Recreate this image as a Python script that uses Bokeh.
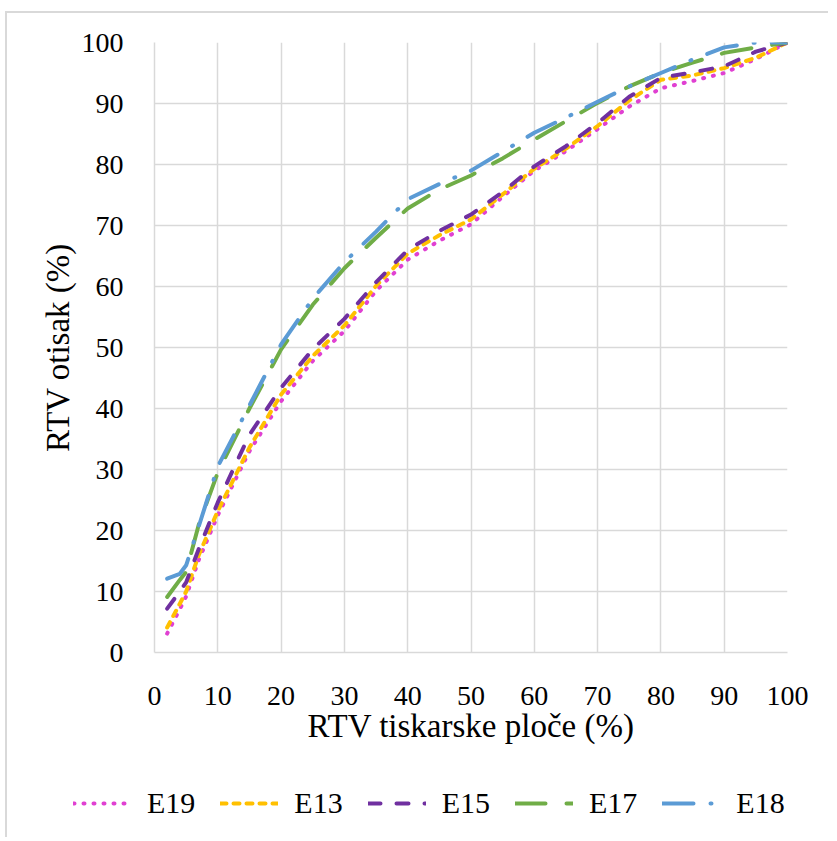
from bokeh.plotting import figure
from bokeh.models import Range1d, FixedTicker, Legend, LegendItem
from bokeh.layouts import column
from bokeh.embed import file_html
from bokeh.resources import INLINE

# RTV of printing plate (%)
x_plate = [2, 4, 5, 7, 10, 15, 20, 25, 30, 35, 40, 45, 50, 55, 60, 65, 70, 75, 80, 85, 90, 95, 100]

e19 = [3.1, 7.1, 9.2, 15.2, 22.5, 33.0, 41.2, 47.8, 52.7, 59.3, 64.4, 67.5, 70.2, 74.7, 79.0, 82.2, 85.8, 89.5, 92.5, 93.7, 95.0, 97.3, 100]
e13 = [4.1, 8.0, 10.0, 16.0, 23.2, 33.6, 42.3, 48.6, 53.6, 60.1, 65.4, 68.4, 71.0, 75.1, 79.3, 82.6, 86.3, 90.5, 93.9, 94.6, 95.8, 97.5, 100]
e15 = [7.2, 10.0, 11.5, 17.0, 24.6, 35.7, 43.4, 49.7, 54.7, 60.7, 66.0, 69.1, 71.8, 75.5, 79.7, 83.0, 86.8, 91.1, 94.2, 95.1, 96.1, 98.5, 100]
e17 = [9.1, 11.9, 13.2, 21.0, 29.5, 40.0, 49.7, 57.0, 63.0, 68.0, 72.8, 75.9, 78.2, 81.0, 84.1, 87.1, 90.1, 92.8, 95.0, 96.7, 98.3, 99.2, 100]
e18 = [12.1, 12.9, 14.3, 20.7, 30.5, 40.5, 50.5, 58.0, 64.0, 69.0, 74.3, 76.8, 79.0, 82.1, 85.2, 87.7, 90.3, 92.8, 95.0, 97.2, 99.2, 100, 100]

series_names = ["E19", "E13", "E15", "E17", "E18"]
series_values = [e19, e13, e15, e17, e18]
colors = ["#E040D2", "#FFC000", "#7030A0", "#70AD47", "#5B9BD5"]
dashes = ["1 9", "6 7", "12 16", "30 21", "31 17 1 17"]

ticks = list(range(0, 101, 10))

FONT = "Liberation Serif"
GRID = "#D9D9D9"
LW = 4

p = figure(
    frame_width=633, frame_height=610,
    min_border_left=147, min_border_right=41, min_border_top=29, min_border_bottom=115,
    x_range=Range1d(0, 100), y_range=Range1d(0, 100),
    output_backend="svg", toolbar_location=None,
    background_fill_color="white", border_fill_color="white",
)
p.outline_line_color = None

for ax in (p.xaxis, p.yaxis):
    ax.ticker = FixedTicker(ticks=ticks)
    ax.axis_line_color = GRID
    ax.axis_line_width = 1.5
    ax.major_tick_line_color = None
    ax.minor_tick_line_color = None
    ax.major_label_text_font = FONT
    ax.major_label_text_font_size = "28px"
    ax.major_label_text_color = "black"
    ax.axis_label_text_font = FONT
    ax.axis_label_text_font_size = "33px"
    ax.axis_label_text_font_style = "normal"
    ax.axis_label_text_color = "black"

p.xaxis.axis_label = "RTV tiskarske ploče (%)"
p.yaxis.axis_label = "RTV otisak (%)"
p.xaxis.major_label_standoff = 28
p.yaxis.major_label_standoff = 25
p.xaxis.axis_label_standoff = 0
p.yaxis.axis_label_standoff = 3

for g in (p.xgrid, p.ygrid):
    g.ticker = FixedTicker(ticks=ticks)
    g.grid_line_color = GRID
    g.grid_line_width = 1.5

for name, vals, c, d in zip(series_names, series_values, colors, dashes):
    p.line(x_plate, vals, line_color=c, line_width=LW, line_dash=d,
           line_cap="round", line_join="round")

# legend strip below the chart
p2 = figure(
    frame_width=821, frame_height=70,
    min_border_left=0, min_border_right=0, min_border_top=0, min_border_bottom=0,
    x_range=Range1d(0, 100), y_range=Range1d(0, 100),
    output_backend="svg", toolbar_location=None,
    background_fill_color="white", border_fill_color="white",
)
p2.axis.visible = False
p2.grid.visible = False
p2.outline_line_color = None

items = []
for name, vals, c, d in zip(series_names, series_values, colors, dashes):
    r = p2.line(x_plate, vals, line_color=c, line_width=LW, line_dash=d,
                line_cap="round", line_join="round", visible=False)
    items.append(LegendItem(label=name, renderers=[r]))

legend = Legend(
    items=items, orientation="horizontal", location=(66, 17),
    label_text_font=FONT, label_text_font_size="30px", label_text_color="black",
    glyph_width=58, glyph_height=20, label_standoff=16, spacing=25,
    padding=0, margin=0, border_line_color=None, background_fill_alpha=0,
    inactive_fill_alpha=0,
)
p2.add_layout(legend, "center")

layout = column(p, p2, spacing=0)
layout.styles = {"border-left": "2px solid #D9D9D9", "border-top": "2px solid #D9D9D9",
                 "margin-left": "5px", "margin-top": "11px"}

open("out.html", "w").write(file_html(layout, INLINE))
